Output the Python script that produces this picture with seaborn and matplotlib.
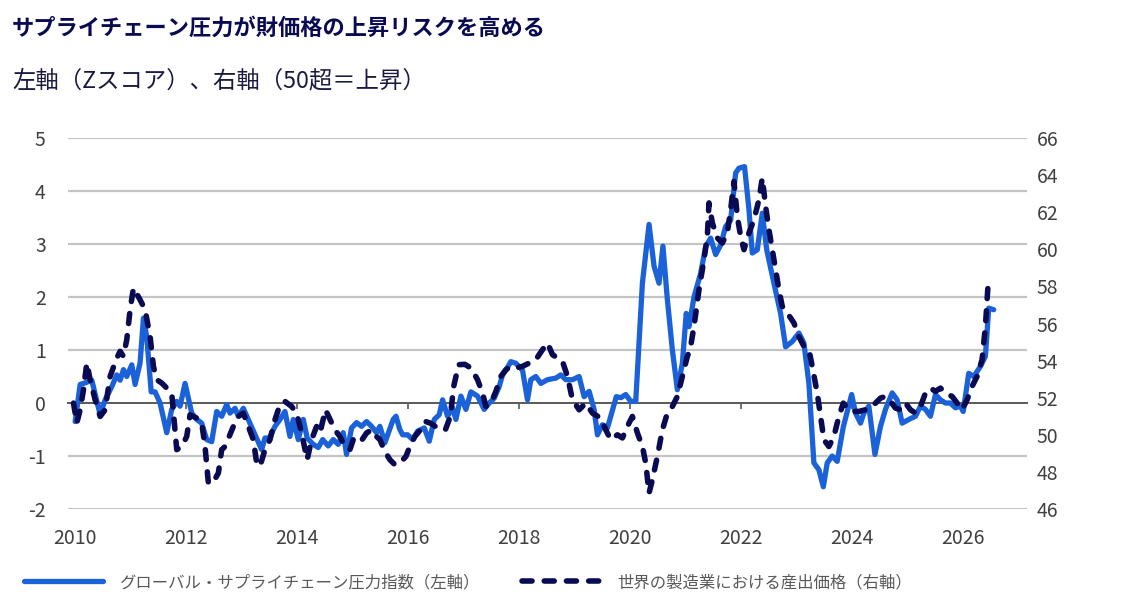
import numpy as np
import pandas as pd
import matplotlib
matplotlib.use("Agg")
import matplotlib.pyplot as plt
import seaborn as sns

# グローバル・サプライチェーン圧力指数（左軸, Zスコア）: 時点（年）と値
gscpi_t = [
    2010.00, 2010.03, 2010.09, 2010.18, 2010.30, 2010.45, 2010.54, 2010.66, 2010.75, 2010.81,
    2010.87, 2010.93, 2011.02, 2011.08, 2011.17, 2011.23, 2011.29, 2011.37, 2011.44, 2011.53,
    2011.65, 2011.74, 2011.83, 2011.89, 2011.98, 2012.10, 2012.19, 2012.28, 2012.37, 2012.46,
    2012.55, 2012.64, 2012.73, 2012.79, 2012.88, 2012.94, 2013.03, 2013.36, 2013.42, 2013.50,
    2013.60, 2013.69, 2013.78, 2013.87, 2013.93, 2014.02, 2014.11, 2014.18, 2014.29, 2014.38,
    2014.46, 2014.56, 2014.65, 2014.74, 2014.83, 2014.89, 2014.98, 2015.07, 2015.16, 2015.25,
    2015.34, 2015.43, 2015.49, 2015.58, 2015.73, 2015.78, 2015.85, 2015.90, 2015.99, 2016.08,
    2016.17, 2016.29, 2016.38, 2016.47, 2016.56, 2016.62, 2016.71, 2016.80, 2016.86, 2016.95,
    2017.04, 2017.13, 2017.25, 2017.37, 2017.46, 2017.55, 2017.64, 2017.70, 2017.76, 2017.85,
    2017.94, 2018.06, 2018.15, 2018.21, 2018.30, 2018.39, 2018.51, 2018.66, 2018.75, 2018.84,
    2018.96, 2019.08, 2019.17, 2019.26, 2019.35, 2019.41, 2019.50, 2019.59, 2019.65, 2019.75,
    2019.83, 2019.92, 2020.01, 2020.10, 2020.22, 2020.34, 2020.43, 2020.52, 2020.59, 2020.67,
    2020.76, 2020.85, 2020.94, 2021.01, 2021.06, 2021.15, 2021.27, 2021.36, 2021.45, 2021.54,
    2021.63, 2021.72, 2021.81, 2021.90, 2021.96, 2022.06, 2022.14, 2022.20, 2022.29, 2022.38,
    2022.46, 2022.59, 2022.71, 2022.80, 2022.92, 2023.04, 2023.13, 2023.22, 2023.31, 2023.40,
    2023.48, 2023.55, 2023.64, 2023.73, 2023.84, 2023.99, 2024.06, 2024.15, 2024.21, 2024.30,
    2024.41, 2024.51, 2024.60, 2024.72, 2024.81, 2024.90, 2025.02, 2025.14, 2025.23, 2025.32,
    2025.41, 2025.50, 2025.59, 2025.68, 2025.77, 2025.86, 2025.95, 2026.00, 2026.10, 2026.19,
    2026.31, 2026.40, 2026.46, 2026.55,
]
gscpi_v = [
    -0.35, -0.12, 0.35, 0.38, 0.43, -0.22, 0.06, 0.31, 0.53, 0.43,
    0.63, 0.50, 0.72, 0.35, 0.76, 1.60, 1.25, 0.21, 0.21, 0.00,
    -0.56, -0.12, 0.03, -0.06, 0.37, -0.19, -0.31, -0.38, -0.69, -0.73,
    -0.16, -0.25, -0.03, -0.19, -0.10, -0.25, -0.10, -0.88, -0.66, -0.66,
    -0.44, -0.31, -0.16, -0.63, -0.31, -0.69, -0.31, -0.66, -0.78, -0.84,
    -0.69, -0.81, -0.69, -0.78, -0.56, -0.97, -0.47, -0.37, -0.44, -0.35,
    -0.44, -0.56, -0.44, -0.75, -0.31, -0.25, -0.50, -0.60, -0.60, -0.69,
    -0.53, -0.47, -0.72, -0.31, -0.22, 0.06, -0.25, -0.09, -0.31, 0.13,
    -0.12, 0.21, 0.13, -0.12, 0.00, 0.09, 0.31, 0.53, 0.62, 0.78,
    0.75, 0.62, 0.06, 0.44, 0.50, 0.37, 0.44, 0.47, 0.53, 0.44,
    0.44, 0.50, 0.12, 0.22, -0.12, -0.60, -0.41, -0.47, -0.25, 0.12,
    0.10, 0.16, 0.03, 0.03, 2.26, 3.37, 2.58, 2.26, 2.96, 1.95,
    1.00, 0.25, 0.75, 1.69, 1.44, 2.00, 2.45, 2.95, 3.11, 2.80,
    2.98, 3.33, 3.45, 4.34, 4.43, 4.46, 3.65, 2.83, 2.89, 3.58,
    2.89, 2.26, 1.69, 1.06, 1.16, 1.32, 1.13, 0.37, -1.13, -1.26,
    -1.58, -1.13, -1.00, -1.10, -0.45, 0.16, -0.19, -0.38, -0.19, -0.06,
    -0.97, -0.44, -0.12, 0.19, 0.06, -0.38, -0.31, -0.25, -0.06, -0.12,
    -0.25, 0.16, 0.06, 0.00, 0.00, -0.09, -0.06, -0.16, 0.56, 0.50,
    0.69, 0.88, 1.79, 1.76,
]

# 世界の製造業における産出価格（右軸, 50超＝上昇）
pmi_t = [
    2009.97, 2010.03, 2010.09, 2010.15, 2010.21, 2010.27, 2010.36, 2010.45, 2010.54, 2010.63,
    2010.75, 2010.81, 2010.87, 2010.93, 2010.99, 2011.05, 2011.17, 2011.26, 2011.35, 2011.41,
    2011.47, 2011.56, 2011.74, 2011.83, 2011.92, 2012.01, 2012.07, 2012.19, 2012.28, 2012.34,
    2012.40, 2012.48, 2012.58, 2012.64, 2012.70, 2012.85, 2012.94, 2013.03, 2013.12, 2013.21,
    2013.27, 2013.33, 2013.42, 2013.51, 2013.60, 2013.69, 2013.78, 2013.90, 2013.99, 2014.08,
    2014.18, 2014.26, 2014.35, 2014.41, 2014.51, 2014.68, 2014.77, 2014.86, 2014.95, 2015.01,
    2015.13, 2015.25, 2015.34, 2015.43, 2015.49, 2015.58, 2015.67, 2015.76, 2015.86, 2015.96,
    2016.03, 2016.12, 2016.22, 2016.31, 2016.40, 2016.49, 2016.58, 2016.67, 2016.76, 2016.82,
    2016.91, 2017.02, 2017.13, 2017.25, 2017.34, 2017.40, 2017.49, 2017.58, 2017.67, 2017.76,
    2017.85, 2017.94, 2018.06, 2018.18, 2018.30, 2018.42, 2018.51, 2018.60, 2018.78, 2018.87,
    2018.96, 2019.08, 2019.20, 2019.32, 2019.47, 2019.56, 2019.65, 2019.77, 2019.86, 2019.98,
    2020.04, 2020.13, 2020.22, 2020.28, 2020.34, 2020.40, 2020.49, 2020.58, 2020.67, 2020.76,
    2020.85, 2020.94, 2021.03, 2021.08, 2021.15, 2021.24, 2021.33, 2021.39, 2021.42, 2021.48,
    2021.57, 2021.66, 2021.75, 2021.81, 2021.87, 2021.93, 2021.99, 2022.05, 2022.14, 2022.23,
    2022.32, 2022.38, 2022.44, 2022.50, 2022.59, 2022.68, 2022.74, 2022.83, 2022.95, 2023.04,
    2023.13, 2023.22, 2023.28, 2023.37, 2023.43, 2023.49, 2023.58, 2023.67, 2023.76, 2023.84,
    2023.94, 2024.03, 2024.12, 2024.24, 2024.33, 2024.42, 2024.51, 2024.60, 2024.69, 2024.78,
    2024.87, 2024.96, 2025.05, 2025.14, 2025.23, 2025.32, 2025.41, 2025.50, 2025.59, 2025.68,
    2025.80, 2025.89, 2025.98, 2026.07, 2026.16, 2026.25, 2026.34, 2026.40, 2026.45,
]
pmi_v = [
    51.71, 50.64, 51.35, 52.43, 53.87, 52.97, 51.89, 50.99, 51.35, 53.15,
    54.14, 54.50, 54.23, 55.13, 56.74, 57.91, 57.28, 56.74, 55.30, 53.69,
    52.97, 52.79, 52.25, 49.20, 49.37, 49.91, 51.08, 50.90, 50.64, 49.37,
    47.40, 47.40, 47.94, 49.20, 49.37, 50.45, 50.99, 51.17, 50.45, 49.74,
    48.48, 48.30, 49.20, 49.74, 50.81, 51.62, 51.80, 51.53, 51.17, 50.10,
    48.66, 49.74, 50.45, 50.10, 51.35, 50.27, 49.91, 49.37, 49.20, 49.74,
    49.56, 50.10, 50.27, 49.91, 49.74, 49.11, 48.66, 48.39, 48.50, 48.84,
    49.37, 49.91, 50.27, 50.72, 50.63, 50.45, 50.45, 50.27, 50.99, 52.61,
    53.78, 53.80, 53.60, 52.97, 52.25, 51.53, 51.71, 52.34, 53.15, 53.51,
    53.69, 53.60, 53.69, 53.87, 54.05, 54.59, 54.95, 54.32, 53.96, 53.15,
    51.89, 51.35, 51.71, 51.17, 50.90, 50.27, 49.74, 50.00, 49.83, 50.64,
    50.99, 50.10, 49.37, 48.48, 46.86, 47.58, 48.84, 50.27, 51.17, 51.53,
    52.07, 53.15, 54.23, 54.60, 55.85, 57.82, 59.44, 60.70, 62.50, 61.42,
    60.61, 60.34, 60.88, 62.13, 63.66, 61.77, 60.70, 59.98, 60.88, 61.60,
    62.67, 63.84, 62.31, 61.06, 59.44, 57.82, 56.92, 56.57, 56.03, 55.30,
    54.77, 54.59, 53.69, 52.25, 50.99, 49.74, 49.37, 49.91, 50.99, 51.71,
    51.35, 51.26, 51.26, 51.35, 51.53, 51.71, 51.98, 52.07, 51.80, 51.44,
    51.35, 51.71, 51.35, 51.17, 51.53, 52.25, 52.52, 52.34, 52.52, 52.25,
    52.07, 51.71, 51.35, 51.89, 52.61, 53.15, 54.05, 55.84, 58.18,
]

left_ticks = [-2, -1, 0, 1, 2, 3, 4, 5]
right_ticks = [46, 48, 50, 52, 54, 56, 58, 60, 62, 64, 66]
year_ticks = [2010, 2012, 2014, 2016, 2018, 2020, 2022, 2024, 2026]

title = "サプライチェーン圧力が財価格の上昇リスクを高める"
subtitle = "左軸（Zスコア）、右軸（50超＝上昇）"
label_gscpi = "グローバル・サプライチェーン圧力指数（左軸）"
label_pmi = "世界の製造業における産出価格（右軸）"

BLUE = "#1b62d9"
NAVY = "#0a0a52"
TICK = "#404040"

sns.set_theme(style="white")
plt.rcParams["font.family"] = ["Noto Sans CJK JP", "DejaVu Sans"]

df_g = pd.DataFrame({"t": gscpi_t, "v": gscpi_v})
df_p = pd.DataFrame({"t": pmi_t, "v": pmi_v})

fig = plt.figure(figsize=(11.4, 6.07), dpi=100)
ax = fig.add_axes([0.0596, 0.1614, 0.8413, 0.6113])
ax2 = ax.twinx()

sns.lineplot(data=df_g, x="t", y="v", ax=ax, color=BLUE, linewidth=3.8, zorder=3)
sns.lineplot(data=df_p, x="t", y="v", ax=ax2, color=NAVY, linewidth=4.0, zorder=4)
line_g = ax.lines[-1]
line_p = ax2.lines[-1]
line_p.set_dashes((1.8, 2.2))
line_p.set_dash_capstyle("round")
line_g.set_solid_joinstyle("round")

ax.set_xlim(2009.87, 2027.15)
ax.set_ylim(-2, 5)
ax2.set_ylim(46, 66)

# 左軸の目盛に合わせた横線
for v in left_ticks:
    if v != 0:
        ax.axhline(v, color="#c4c4c4", linewidth=1.6, zorder=0)

for s in ["top", "left", "right"]:
    ax.spines[s].set_visible(False)
    ax2.spines[s].set_visible(False)
ax2.spines["bottom"].set_visible(False)

# ゼロ線をx軸として使い、小さな目盛を付ける
ax.spines["bottom"].set_position(("data", 0))
ax.spines["bottom"].set_color("#595959")
ax.spines["bottom"].set_linewidth(1.4)
ax.spines["bottom"].set_zorder(1)
ax.set_xticks(year_ticks)
ax.tick_params(axis="x", direction="out", length=4, width=1.2, color="#595959",
               labelbottom=False, bottom=True)

sec = ax.secondary_xaxis("bottom")
sec.set_xticks(year_ticks)
sec.set_xticklabels([str(y) for y in year_ticks])
sec.tick_params(length=0, labelsize=14, labelcolor=TICK, pad=14)
sec.spines["bottom"].set_visible(False)

ax.set_yticks(left_ticks)
ax.set_yticklabels([str(v) for v in left_ticks])
ax.tick_params(axis="y", length=0, labelsize=14, labelcolor=TICK, pad=16)
ax2.set_yticks(right_ticks)
ax2.set_yticklabels([str(v) for v in right_ticks])
ax2.tick_params(axis="y", length=0, labelsize=14, labelcolor=TICK, pad=7)

ax.set_xlabel("")
ax.set_ylabel("")
ax2.set_ylabel("")
ax.grid(False)
ax2.grid(False)

fig.text(0.0105, 0.953, title, fontsize=16, fontweight="bold", color=NAVY,
         va="center", ha="left")
fig.text(0.0105, 0.866, subtitle, fontsize=16.8, color="#1a1a40",
         va="center", ha="left")

leg = fig.legend([line_g, line_p], [label_gscpi, label_pmi], loc="center left",
                 bbox_to_anchor=(0.021, 0.04), ncol=2, frameon=False,
                 fontsize=11.8, handlelength=4.8, handletextpad=1.0,
                 columnspacing=2.6, borderpad=0, borderaxespad=0)
for txt in leg.get_texts():
    txt.set_color("#595959")

fig.savefig("out.png", dpi=100)
